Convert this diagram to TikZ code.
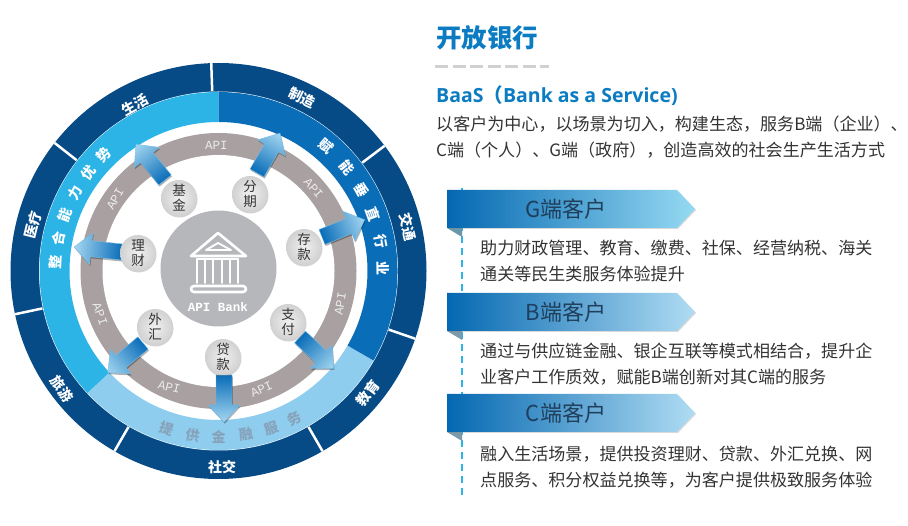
\documentclass[tikz,border=0pt]{standalone}
\usepackage{fontspec}
\setmainfont{Noto Sans CJK SC}
\newfontfamily\apifont{Liberation Mono}
\newfontfamily\baasfont{Open Sans}
\usetikzlibrary{shadows}
\definecolor{ringdark}{HTML}{064A86}
\definecolor{ringsky}{HTML}{2CB4E6}
\definecolor{ringblue}{HTML}{0A6DB8}
\definecolor{ringpale}{HTML}{8ECDEE}
\definecolor{ringgray}{HTML}{A9A1A1}
\definecolor{hubgray}{HTML}{B6B7BB}
\definecolor{titleblue}{HTML}{0B7CC1}
\definecolor{bodygray}{HTML}{333333}
\definecolor{bannerdark}{HTML}{0468B1}
\definecolor{bannertext}{HTML}{1F3F5C}
\tikzset{
  ringlabel/.style={text=white,font=\fontsize{14}{14}\selectfont\bfseries},
  apilabel/.style={text=white!92!black,font=\fontsize{12.5}{13}\selectfont\apifont},
  bodyline/.style={anchor=west,text=bodygray,inner sep=0pt,font=\fontsize{17.05}{17}\selectfont},
  bannerlabel/.style={text=bannertext,font=\fontsize{22}{22}\selectfont},
  coin/.style={circle,minimum size=36pt,inner sep=0pt,align=center,text=bodygray,
    inner color=white!94!black,outer color=white!82!black,
    font=\fontsize{13.5}{15}\selectfont,drop shadow={shadow xshift=0.5pt,shadow yshift=-1.5pt,opacity=.35}},
  divider/.style={white,line width=2.5pt},
}
% ring sector: start angle, end angle, inner radius, outer radius
\newcommand{\sector}[5]{\fill[#1] (#2:#5) arc (#2:#3:#5) -- (#3:#4) arc (#3:#2:#4) -- cycle;}
% banner with the folded corner
\newcommand{\banner}[4]{
  \fill[#4!70!black] (447,#1-38) -- (462,#1-38) -- (462,#1-47) -- cycle;
  \shade[left color=bannerdark,middle color=#4!55!bannerdark,right color=#4,drop shadow={shadow xshift=1pt,shadow yshift=-1pt,opacity=.3}]
    (447,#1) -- (677,#1) -- (695,#1-19) -- (677,#1-38) -- (447,#1-38) -- cycle;
  \node[bannerlabel] (#2) at (566,#1-19) {#3};
}
\begin{document}
\begin{tikzpicture}[x=1pt,y=1pt]
\useasboundingbox (0,0) rectangle (908,-526);
%rings
\begin{scope}[shift={(218.5,-271)}]
\fill[ringdark] (0,0) circle (208);
\fill[white] (0,0) circle (179.5);
\sector{ringsky}{90}{223}{149}{179}
\sector{ringpale}{223}{330}{149}{179}
\sector{ringblue}{-30}{90}{149}{179}
\foreach \ang in {92,142,192,240,300,341,37}
  \draw[divider] (\ang:180) -- (\ang:208);
\fill[ringgray] (0,0) circle (138);
\fill[white] (0,0) circle (116);
\fill[hubgray] (0,2.5) circle (58);
%middle ring
\foreach \ang/\txt in {177/整,168.5/合,160/能,151.5/力,143/优,134.5/势}
  \node[ringlabel,rotate=\ang-90] at (\ang:163) {\txt};
\foreach \ang/\txt in {49/赋,39/能,29.5/垂,20/直,10.5/行,1/业}
  \node[ringlabel,rotate=\ang-90] at (\ang:165) {\txt};
\foreach \ang/\txt in {252/提,261/供,270/金,279.5/融,288.5/服,297/务}
  \node[ringlabel,text=ringgray!60!ringblue!80,rotate=\ang-270] at (\ang:166) {\txt};
%gray ring labels
\foreach \ang/\rot in {91/0,41/-49,145/60,345/80,200/-70,247/-14,290/24}
  \node[apilabel,rotate=\rot] at (\ang:126) {API};
\end{scope}
%outer ring
\foreach \px/\py/\txt/\rot in {
  135/-105/生活/29, 302/-98/制造/-26, 408/-227/交通/-77, 33/-225/医疗/76,
  62/-389/旅游/-54, 368/-393/教育/53, 222/-467/社交/0}
  \node[ringlabel,rotate=\rot] at (\px,\py) {\txt};
%hub
\node[text=white,font=\fontsize{12.5}{13}\selectfont\bfseries\apifont] (apibank) at (218,-307) {API Bank};
\begin{scope}[white,line width=2.6pt,line join=round,line cap=round]
\draw (191,-256) -- (218,-233) -- (246,-256) -- cycle;
\draw[line width=1.8pt] (206,-250) -- (218,-243) -- (231,-250) -- cycle;
\draw[rounded corners=3pt] (191,-286) rectangle (246,-292);
\foreach \px in {197,205,213,222,230,238}
  \draw[line width=1.8pt] (\px,-259) -- (\px,-283);
\draw[line width=1.6pt] (197,-259) -- (238,-259);
\end{scope}
%arrows
\foreach \tx/\ty/\ang/\len in {
  165/-180/129/46, 257/-173/60/46, 322/-237/22/46, 300/-337/317/46,
  224/-375/270/47, 143/-343/220/46, 122/-252/174/48}
{
  \fill[black,opacity=.3,transform canvas={shift={(\tx pt+.8pt,\ty pt-1.6pt)},rotate=\ang}]
    (0,-8) -- (\len-17,-8) -- (\len-17,-16) -- (\len,0) -- (\len-17,16) -- (\len-17,8) -- (0,8) -- cycle;
  \shade[transform canvas={shift={(\tx pt,\ty pt)},rotate=\ang},left color=ringblue,middle color=ringblue!75!ringpale,right color=ringpale!80!white,
    draw=ringpale!80!ringblue,line width=.4pt]
    (0,-8) -- (\len-17,-8) -- (\len-17,-16) -- (\len,0) -- (\len-17,16) -- (\len-17,8) -- (0,8) -- cycle;
}
%coins
\foreach \name/\cx/\cy/\txt in {
  jijin/179/-198/基\\金, fenqi/250/-194/分\\期, cunkuan/304/-247/存\\款, zhifu/288/-322/支\\付,
  daikuan/223/-357/贷\\款, waihui/155/-327/外\\汇, licai/138/-253/理\\财}
  \node[coin] (\name) at (\cx,\cy) {\txt};
%right column
\node[anchor=west,inner sep=0pt,text=titleblue,font=\fontsize{25.5}{26}\selectfont\bfseries] (title) at (436,-38) {开放银行};
\draw[white!82!black,line width=3pt,dash pattern=on 13pt off 4.5pt] (435,-67) -- (549,-67);
\node[anchor=west,inner sep=0pt,text=titleblue,font=\fontsize{19.5}{20}\selectfont\bfseries] (baas) at (436,-96) {{\baasfont BaaS}（{\baasfont Bank as a Service)}};
\node[bodyline] (intro1) at (436,-124) {以客户为中心，以场景为切入，构建生态，服务B端（企业）、};
\node[bodyline] (intro2) at (436,-150) {C端（个人）、G端（政府），创造高效的社会生产生活方式};
\draw[ringsky,line width=1.5pt,dash pattern=on 7pt off 5pt] (462,-188) -- (462,-497);
\banner{-190}{gbanner}{G端客户}{white!50!ringsky}
\banner{-293}{bbanner}{B端客户}{ringpale!70!white}
\banner{-394}{cbanner}{C端客户}{ringpale!70!white}
\node[bodyline] (gtext1) at (480,-248) {助力财政管理、教育、缴费、社保、经营纳税、海关};
\node[bodyline] (gtext2) at (480,-274) {通关等民生类服务体验提升};
\node[bodyline] (btext1) at (480,-351) {通过与供应链金融、银企互联等模式相结合，提升企};
\node[bodyline] (btext2) at (480,-377) {业客户工作质效，赋能B端创新对其C端的服务};
\node[bodyline] (ctext1) at (480,-454) {融入生活场景，提供投资理财、贷款、外汇兑换、网};
\node[bodyline] (ctext2) at (480,-480) {点服务、积分权益兑换等，为客户提供极致服务体验};
\end{tikzpicture}
\end{document}
